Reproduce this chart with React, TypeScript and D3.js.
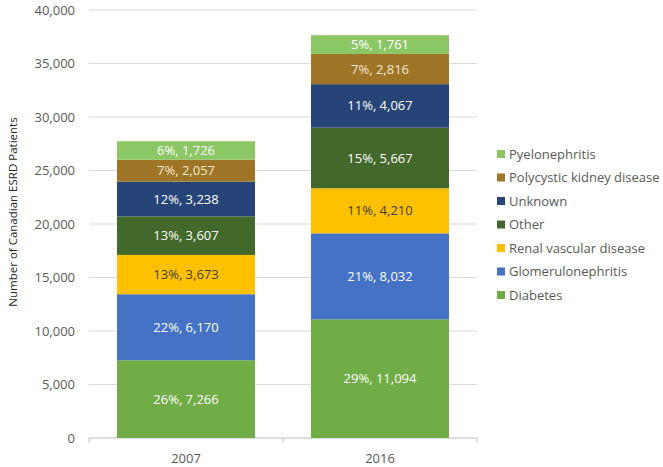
import React from "react";
import * as d3 from "d3";

const categories = ["2007", "2016"];
const seriesNames = [
  "Diabetes",
  "Glomerulonephritis",
  "Renal vascular disease",
  "Other",
  "Unknown",
  "Polycystic kidney disease",
  "Pyelonephritis",
];
const values2007 = [7266, 6170, 3673, 3607, 3238, 2057, 1726];
const values2016 = [11094, 8032, 4210, 5667, 4067, 2816, 1761];
const pct2007 = ["26%", "22%", "13%", "13%", "12%", "7%", "6%"];
const pct2016 = ["29%", "21%", "11%", "15%", "11%", "7%", "5%"];
const yTicks = [0, 5000, 10000, 15000, 20000, 25000, 30000, 35000, 40000];
const colors = ["#70AD47", "#4472C4", "#FFC000", "#43682B", "#264478", "#9E7426", "#8CC765"];
const labelColors = ["#FFFFFF", "#FFFFFF", "#404040", "#FFFFFF", "#FFFFFF", "#F4EAD2", "#FFFFFF"];

const FONT = "'Open Sans', sans-serif";

export default function App() {
  const W = 663, H = 467;
  const left = 89, right = 477, top = 10, bottom = 438;
  const x = d3.scaleBand().domain(categories).range([left, right]).paddingInner(0.2886).paddingOuter(0.1443);
  const y = d3.scaleLinear().domain([0, 40000]).range([bottom, top]);
  const fmt = d3.format(",");
  const table = [values2007, values2016];
  const pcts = [pct2007, pct2016];
  const data = categories.map((c, i) => {
    const o: any = { cat: c };
    seriesNames.forEach((s, j) => (o[s] = table[i][j]));
    return o;
  });
  const stacked = d3.stack().keys(seriesNames)(data);
  const band = (right - left) / categories.length;
  return (
    <svg width={W} height={H} style={{ position: "absolute", left: 0, top: 0, background: "#fff" }} fontFamily={FONT}>
      {yTicks.map((t) => (
        <g key={t}>
          <line x1={left} x2={right} y1={y(t)} y2={y(t)} stroke={t === 0 ? "#BFBFBF" : "#D9D9D9"} strokeWidth={1} />
          <text x={75} y={y(t)} dy="0.35em" textAnchor="end" fontSize={13} fill="#595959">
            {fmt(t)}
          </text>
        </g>
      ))}
      {[0, 1, 2].map((k) => (
        <line key={k} x1={left + k * band} x2={left + k * band} y1={bottom} y2={bottom + 5} stroke="#BFBFBF" />
      ))}
      {stacked.map((layer, j) =>
        layer.map((d, i) => {
          const x0 = x(categories[i])!;
          const y0 = y(d[1]);
          const h = y(d[0]) - y(d[1]);
          return (
            <g key={`${j}-${i}`}>
              <rect x={x0} y={y0} width={x.bandwidth()} height={h} fill={colors[j]} />
              <text
                x={x0 + x.bandwidth() / 2}
                y={y0 + h / 2}
                dy="0.35em"
                textAnchor="middle"
                fontSize={13}
                fill={labelColors[j]}
              >
                {`${pcts[i][j]}, ${fmt(table[i][j])}`}
              </text>
            </g>
          );
        })
      )}
      {categories.map((c) => (
        <text key={c} x={x(c)! + x.bandwidth() / 2} y={458} dy="0.35em" textAnchor="middle" fontSize={13} fill="#595959">
          {c}
        </text>
      ))}
      <text transform={`translate(13,212) rotate(-90)`} textAnchor="middle" dy="0.35em" fontSize={11.5} fill="#262626">
        Number of  Canadian ESRD Patients
      </text>
      {seriesNames
        .map((s, j) => ({ s, j }))
        .reverse()
        .map(({ s, j }, k) => {
          const cy = 154 + k * 23.5;
          return (
            <g key={s}>
              <rect x={497} y={cy - 4} width={8} height={8} fill={colors[j]} />
              <text x={509} y={cy} dy="0.35em" fontSize={13} fill="#595959">
                {s}
              </text>
            </g>
          );
        })}
    </svg>
  );
}
